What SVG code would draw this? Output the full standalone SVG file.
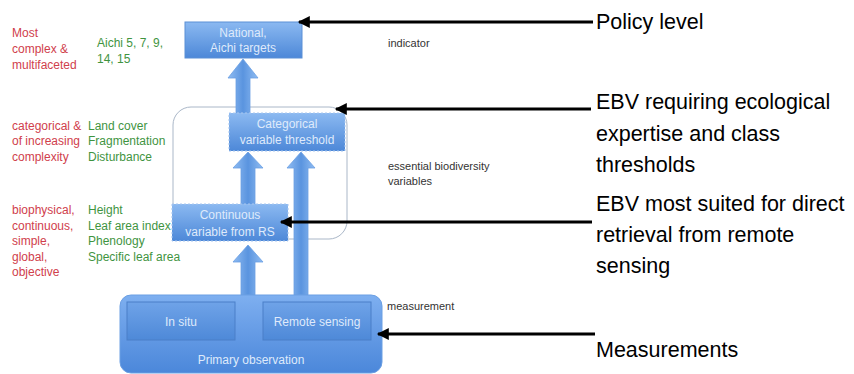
<svg xmlns="http://www.w3.org/2000/svg" width="854" height="374" viewBox="0 0 854 374">
<defs>
<linearGradient id="boxG" x1="0" y1="0" x2="0" y2="1">
<stop offset="0" stop-color="#8bb9f1"/>
<stop offset="1" stop-color="#4d88d8"/>
</linearGradient>
<linearGradient id="outerG" x1="0" y1="0" x2="0" y2="1">
<stop offset="0" stop-color="#7eaff0"/>
<stop offset="1" stop-color="#4b87da"/>
</linearGradient>
<linearGradient id="innerG" x1="0" y1="0" x2="0" y2="1">
<stop offset="0" stop-color="#6fa3e8"/>
<stop offset="1" stop-color="#4e89d8"/>
</linearGradient>
<linearGradient id="arrG" x1="0" y1="0" x2="1" y2="0">
<stop offset="0" stop-color="#8fbcf2"/>
<stop offset="0.5" stop-color="#5a94df"/>
<stop offset="1" stop-color="#8fbcf2"/>
</linearGradient>
<marker id="ah" viewBox="0 0 10 10" refX="9" refY="5" markerWidth="4.5" markerHeight="4" orient="auto" markerUnits="strokeWidth">
<path d="M0,0 L10,5 L0,10 Z" fill="#000"/>
</marker>
</defs>
<style>
.box{fill:url(#boxG);stroke:#5b8fd6;stroke-width:1}
.dbox{fill:url(#boxG);stroke:#a8c6ee;stroke-width:1;stroke-dasharray:2 2}
.inner{fill:url(#innerG);stroke:#4a7fc8;stroke-width:1}
.btxt{font-family:"Liberation Sans",Arial,sans-serif;font-size:12px;fill:#dfeafb;text-anchor:middle}
.red{font-family:"Liberation Sans",Arial,sans-serif;font-size:12px;fill:#d0404c}
.grn{font-family:"Liberation Sans",Arial,sans-serif;font-size:12px;fill:#3f943f}
.sm{font-family:"Liberation Sans",Arial,sans-serif;font-size:11px;fill:#333}
.big{font-family:"Liberation Sans",Arial,sans-serif;font-size:21.5px;fill:#000}
.barr{fill:url(#arrG);stroke:#6b9fe3;stroke-width:0.8}
.conn{stroke:#000;stroke-width:3;fill:none;marker-end:url(#ah)}
</style>

<g id="left-labels">
<text class="red" x="12" y="37">Most</text>
<text class="red" x="12" y="53">complex &amp;</text>
<text class="red" x="12" y="69">multifaceted</text>
<text class="grn" x="97" y="47">Aichi 5, 7, 9,</text>
<text class="grn" x="97" y="63">14, 15</text>
<text class="red" x="12" y="130">categorical &amp;</text>
<text class="red" x="12" y="145">of increasing</text>
<text class="red" x="12" y="161">complexity</text>
<text class="grn" x="88" y="130">Land cover</text>
<text class="grn" x="88" y="145">Fragmentation</text>
<text class="grn" x="88" y="161">Disturbance</text>
<text class="red" x="12" y="214">biophysical,</text>
<text class="red" x="12" y="230">continuous,</text>
<text class="red" x="12" y="245">simple,</text>
<text class="red" x="12" y="261">global,</text>
<text class="red" x="12" y="276">objective</text>
<text class="grn" x="88" y="214">Height</text>
<text class="grn" x="88" y="230">Leaf area index</text>
<text class="grn" x="88" y="245">Phenology</text>
<text class="grn" x="88" y="261">Specific leaf area</text>
</g>

<g id="ebv-container">
<rect x="173" y="107" width="174" height="132" rx="18" fill="#fff" stroke="#aab7c8" stroke-width="1"/>
</g>

<g id="block-arrows">
<path class="barr" d="M236,113 L236,78 L228,78 L243,59 L258,78 L250,78 L250,113 Z"/>
<path class="barr" d="M241,205 L241,168 L233,168 L248,152 L263,168 L255,168 L255,205 Z"/>
<path class="barr" d="M294,295 L294,168 L287,168 L301,152 L315,168 L308,168 L308,295 Z"/>
<path class="barr" d="M241,295 L241,262 L233,262 L248,245 L263,262 L255,262 L255,295 Z"/>
</g>

<g id="national">
<rect class="box" x="185" y="22" width="117" height="36"/>
<text class="btxt" x="243" y="37">National,</text>
<text class="btxt" x="243" y="52">Aichi targets</text>
</g>

<g id="categorical">
<rect class="dbox" x="229" y="113" width="116" height="38"/>
<text class="btxt" x="287" y="128">Categorical</text>
<text class="btxt" x="287" y="144">variable threshold</text>
</g>

<g id="continuous">
<rect class="dbox" x="172" y="204" width="116" height="37"/>
<text class="btxt" x="230" y="219">Continuous</text>
<text class="btxt" x="230" y="236">variable from RS</text>
</g>

<g id="primary-observation">
<rect x="120" y="295" width="262" height="78" rx="11" fill="url(#outerG)" stroke="#6b9fe3" stroke-width="1"/>
<text class="btxt" x="251" y="364">Primary observation</text>
</g>

<g id="in-situ">
<rect class="inner" x="127" y="302" width="108" height="38"/>
<text class="btxt" x="181" y="326">In situ</text>
</g>

<g id="remote-sensing">
<rect class="inner" x="263" y="302" width="108" height="38"/>
<text class="btxt" x="317" y="326">Remote sensing</text>
</g>

<g id="level-labels">
<text class="sm" x="388" y="47">indicator</text>
<text class="sm" x="388" y="170">essential biodiversity</text>
<text class="sm" x="388" y="185">variables</text>
<text class="sm" x="387" y="310">measurement</text>
</g>

<g id="connectors">
<line class="conn" x1="593" y1="22" x2="299" y2="22"/>
<line class="conn" x1="591" y1="109" x2="336" y2="109"/>
<line class="conn" x1="592" y1="222" x2="281" y2="222"/>
<line class="conn" x1="595" y1="334" x2="378" y2="334"/>
</g>

<g id="annotations">
<text class="big" x="596" y="29">Policy level</text>
<text class="big" x="596" y="109">EBV requiring ecological</text>
<text class="big" x="596" y="141">expertise and class</text>
<text class="big" x="596" y="172">thresholds</text>
<text class="big" x="596" y="211">EBV most suited for direct</text>
<text class="big" x="596" y="242">retrieval from remote</text>
<text class="big" x="596" y="273">sensing</text>
<text class="big" x="596" y="357">Measurements</text>
</g>
</svg>
